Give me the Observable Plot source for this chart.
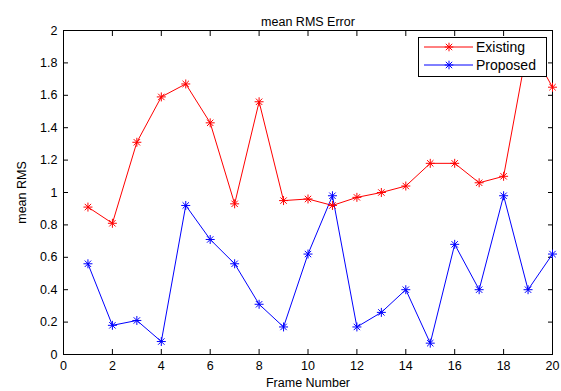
<!DOCTYPE html>
<html>
<head>
<meta charset="utf-8">
<script src="https://cdn.jsdelivr.net/npm/d3@7"></script>
<script src="https://cdn.jsdelivr.net/npm/@observablehq/plot@0.6"></script>
<style>
  body { margin: 0; background: #fff; }
  #wrap { position: relative; width: 561px; height: 391px; font-family: "Liberation Sans", Arial, sans-serif; }
  #legend { position: absolute; left: 418px; top: 37px; width: 127px; height: 38px; border: 1px solid #000; background: #fff; }
  #legend svg { display: block; }
</style>
</head>
<body>
<div id="wrap"></div>
<script>
const frames = [1, 2, 3, 4, 5, 6, 7, 8, 9, 10, 11, 12, 13, 14, 15, 16, 17, 18, 19, 20];
const existing = [0.91, 0.81, 1.31, 1.59, 1.67, 1.43, 0.93, 1.56, 0.95, 0.96, 0.92, 0.97, 1.00, 1.04, 1.18, 1.18, 1.06, 1.10, 1.92, 1.65];
const proposed = [0.56, 0.18, 0.21, 0.08, 0.92, 0.71, 0.56, 0.31, 0.17, 0.62, 0.98, 0.17, 0.26, 0.40, 0.07, 0.68, 0.40, 0.98, 0.40, 0.62];
const xTicks = [0, 2, 4, 6, 8, 10, 12, 14, 16, 18, 20];
const yTicks = [0, 0.2, 0.4, 0.6, 0.8, 1, 1.2, 1.4, 1.6, 1.8, 2];
const seriesNames = ["Existing", "Proposed"];
const seriesColors = ["#ff0000", "#0000ff"];
const titleText = "mean RMS Error";
const xLabel = "Frame Number";
const yLabel = "mean RMS";

const data = [];
frames.forEach((f, i) => {
  data.push({frame: f, value: existing[i], series: seriesNames[0]});
  data.push({frame: f, value: proposed[i], series: seriesNames[1]});
});

const fmt = d => String(+(+d).toFixed(1));

const chart = Plot.plot({
  width: 561,
  height: 391,
  marginLeft: 63,
  marginRight: 9,
  marginTop: 30,
  marginBottom: 37,
  style: { fontFamily: "'Liberation Sans', Arial, sans-serif", fontSize: "12.5px", color: "#000", background: "#fff", overflow: "visible" },
  x: { domain: [0, 20] },
  y: { domain: [0, 2] },
  color: { domain: seriesNames, range: seriesColors },
  marks: [
    Plot.axisX({ ticks: xTicks, anchor: "bottom", tickSize: -5, tickPadding: 12, tickFormat: fmt,
      label: xLabel, labelAnchor: "center", labelOffset: 32, labelArrow: "none", fontSize: 12.5 }),
    Plot.axisX({ ticks: xTicks, anchor: "top", tickSize: -5, tickFormat: () => "", label: null }),
    Plot.axisY({ ticks: yTicks, anchor: "left", tickSize: -5, tickPadding: 11, tickFormat: fmt,
      label: yLabel, labelAnchor: "center", labelOffset: 46, labelArrow: "none", fontSize: 12.5 }),
    Plot.axisY({ ticks: yTicks, anchor: "right", tickSize: -5, tickFormat: () => "", label: null }),
    Plot.frame({ stroke: "#000", strokeWidth: 1 }),
    Plot.line(data, { x: "frame", y: "value", z: "series", stroke: "series", strokeWidth: 1 }),
    Plot.dot(data, { x: "frame", y: "value", stroke: "series", symbol: "plus", r: 3, strokeWidth: 1 }),
    Plot.dot(data, { x: "frame", y: "value", stroke: "series", symbol: "times", r: 3, strokeWidth: 1 }),
    Plot.text([titleText], { text: d => d, frameAnchor: "top", dy: -13, fontSize: 12.5 })
  ]
});

const wrap = document.getElementById("wrap");
wrap.appendChild(chart);

// Legend (inside the axes, top right)
const legend = document.createElement("div");
legend.id = "legend";
const ns = "http://www.w3.org/2000/svg";
const lsvg = document.createElementNS(ns, "svg");
lsvg.setAttribute("width", 127);
lsvg.setAttribute("height", 38);
seriesNames.forEach((name, i) => {
  const cy = 9 + i * 18;
  const c = seriesColors[i];
  const line = document.createElementNS(ns, "line");
  line.setAttribute("x1", 5); line.setAttribute("x2", 54);
  line.setAttribute("y1", cy); line.setAttribute("y2", cy);
  line.setAttribute("stroke", c); line.setAttribute("stroke-width", 1);
  lsvg.appendChild(line);
  const m = document.createElementNS(ns, "path");
  const mx = 30, a = 4.3, b = 3.2;
  m.setAttribute("d", `M${mx - a},${cy}H${mx + a}M${mx},${cy - a}V${cy + a}M${mx - b},${cy - b}L${mx + b},${cy + b}M${mx - b},${cy + b}L${mx + b},${cy - b}`);
  m.setAttribute("stroke", c); m.setAttribute("fill", "none"); m.setAttribute("stroke-width", 1);
  lsvg.appendChild(m);
  const t = document.createElementNS(ns, "text");
  t.setAttribute("x", 57); t.setAttribute("y", cy);
  t.setAttribute("dy", "0.35em");
  t.setAttribute("font-size", 14);
  t.setAttribute("font-family", "'Liberation Sans', Arial, sans-serif");
  t.setAttribute("fill", "#000");
  t.textContent = name;
  lsvg.appendChild(t);
});
legend.appendChild(lsvg);
wrap.appendChild(legend);
</script>
</body>
</html>
